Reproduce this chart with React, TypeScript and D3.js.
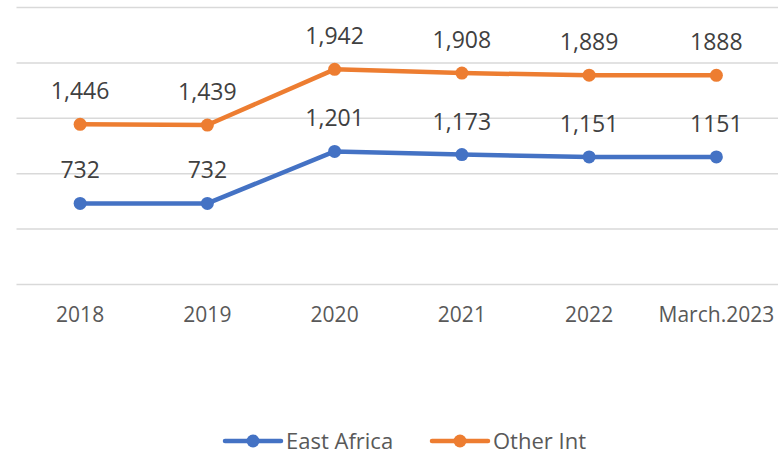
import { useEffect, useRef } from "react";
import * as d3 from "d3";

const categories = ["2018", "2019", "2020", "2021", "2022", "March.2023"];
const eastAfrica = [732, 732, 1201, 1173, 1151, 1151];
const otherInt = [1446, 1439, 1942, 1908, 1889, 1888];
const eastAfricaLabels = ["732", "732", "1,201", "1,173", "1,151", "1151"];
const otherIntLabels = ["1,446", "1,439", "1,942", "1,908", "1,889", "1888"];
const yTicks = [0, 500, 1000, 1500, 2000, 2500];

const seriesList = [
  { name: "East Africa", values: eastAfrica, labels: eastAfricaLabels, color: "#4472C4" },
  { name: "Other Int", values: otherInt, labels: otherIntLabels, color: "#ED7D31" },
];

export default function App() {
  const ref = useRef<SVGSVGElement>(null);

  useEffect(() => {
    const width = 778;
    const height = 455;
    const font = "'Open Sans', sans-serif";

    const svg = d3.select(ref.current).attr("width", width).attr("height", height);
    svg.selectAll("*").remove();

    const x = d3.scalePoint<string>().domain(categories).range([16.5, 780]).padding(0.5);
    const y = d3.scaleLinear().domain([0, 2500]).range([284.5, 7.5]);

    // gridlines
    svg
      .append("g")
      .selectAll("line")
      .data(yTicks)
      .enter()
      .append("line")
      .attr("x1", 16.5)
      .attr("x2", 778)
      .attr("y1", (d) => y(d))
      .attr("y2", (d) => y(d))
      .attr("stroke", "#d9d9d9")
      .attr("stroke-width", 1.5);

    // x labels
    svg
      .append("g")
      .selectAll("text")
      .data(categories)
      .enter()
      .append("text")
      .attr("x", (d) => x(d)!)
      .attr("y", 322)
      .attr("text-anchor", "middle")
      .attr("font-family", font)
      .attr("font-size", "21px")
      .attr("fill", "#595959")
      .text((d) => d);

    const line = d3
      .line<number>()
      .x((_, i) => x(categories[i])!)
      .y((d) => y(d));

    seriesList.forEach((s) => {
      svg
        .append("path")
        .datum(s.values)
        .attr("fill", "none")
        .attr("stroke", s.color)
        .attr("stroke-width", 4.5)
        .attr("stroke-linejoin", "round")
        .attr("d", line);

      svg
        .append("g")
        .selectAll("circle")
        .data(s.values)
        .enter()
        .append("circle")
        .attr("cx", (_, i) => x(categories[i])!)
        .attr("cy", (d) => y(d))
        .attr("r", 6.5)
        .attr("fill", s.color);

      svg
        .append("g")
        .selectAll("text")
        .data(s.values)
        .enter()
        .append("text")
        .attr("x", (_, i) => x(categories[i])!)
        .attr("y", (d) => y(d) - 25)
        .attr("text-anchor", "middle")
        .attr("font-family", font)
        .attr("font-size", "23px")
        .attr("fill", "#404040")
        .text((_, i) => s.labels[i]);
    });

    // legend
    const legendY = 441;
    const legendX = [225, 432];
    seriesList.forEach((s, i) => {
      const g = svg.append("g").attr("transform", `translate(${legendX[i]},${legendY})`);
      g.append("line")
        .attr("x1", 0)
        .attr("x2", 56)
        .attr("y1", 0)
        .attr("y2", 0)
        .attr("stroke", s.color)
        .attr("stroke-width", 4.5)
        .attr("stroke-linecap", "round");
      g.append("circle").attr("cx", 28).attr("cy", 0).attr("r", 6.5).attr("fill", s.color);
      g.append("text")
        .attr("x", 61)
        .attr("y", 7.5)
        .attr("font-family", font)
        .attr("font-size", "22px")
        .attr("fill", "#595959")
        .text(s.name);
    });
  }, []);

  return <svg ref={ref} style={{ position: "absolute", left: 0, top: 0, display: "block" }} />;
}
